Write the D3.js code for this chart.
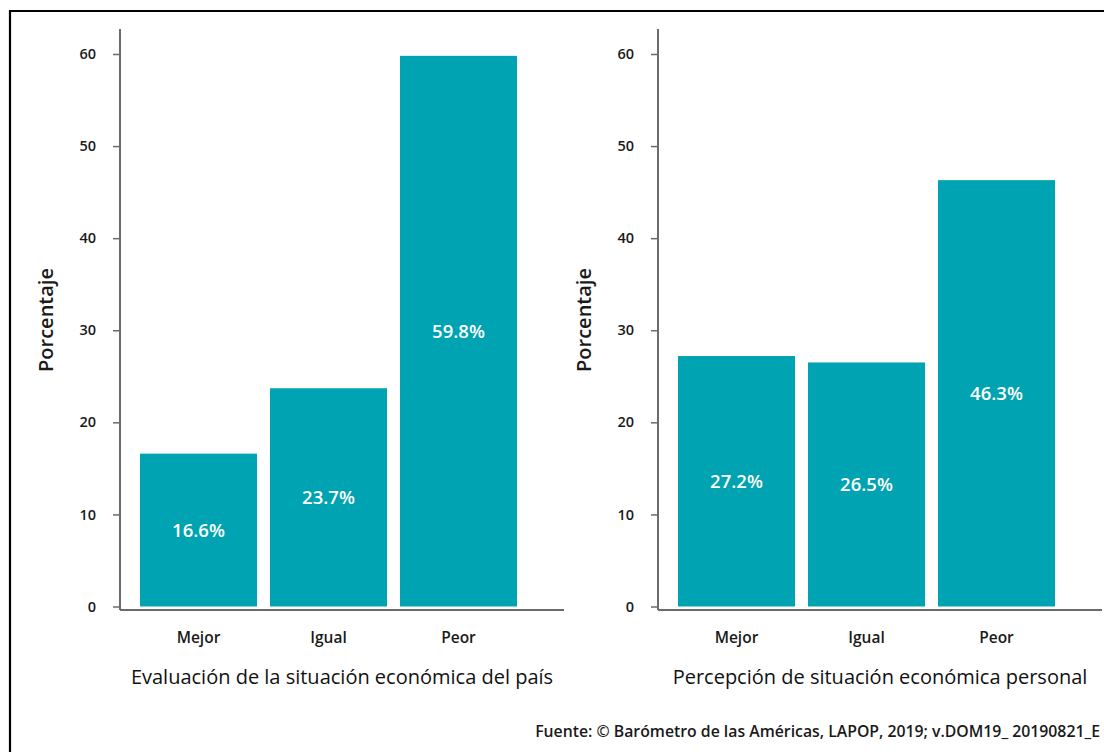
<!DOCTYPE html>
<html>
<head>
<meta charset="utf-8">
<script src="https://cdn.jsdelivr.net/npm/d3@7"></script>
<style>
  html, body { margin: 0; padding: 0; background: #fff; }
  svg { display: block; font-family: "Open Sans", "Noto Sans", sans-serif; }
</style>
</head>
<body>
<svg id="chart" width="1104" height="752"></svg>
<script>
// ---- data ----
const categories = ["Mejor", "Igual", "Peor"];
const paisValues = [16.6, 23.7, 59.8];
const personalValues = [27.2, 26.5, 46.3];
const panelTitles = ["Evaluación de la situación económica del país", "Percepción de situación económica personal"];
const yTicks = [0, 10, 20, 30, 40, 50, 60];
const yLabel = "Porcentaje";
const sourceText = "Fuente: © Barómetro de las Américas, LAPOP, 2019; v.DOM19_ 20190821_E";

// ---- layout ----
const svg = d3.select("#chart");
const barColor = "#00A3B1";
const axisColor = "#6b6b6b";
const textColor = "#1a1a1a";

// frame (top and left border)
svg.append("path")
  .attr("d", "M10,760 L10,11 L1110,11")
  .attr("fill", "none").attr("stroke", "#000").attr("stroke-width", 2.2);

const panels = [
  { x0: 120, values: paisValues, title: panelTitles[0] },
  { x0: 658, values: personalValues, title: panelTitles[1] }
];

const y = d3.scaleLinear().domain([0, 60]).range([606.5, 54]);

panels.forEach(p => {
  const g = svg.append("g");
  const axisEnd = p.x0 + 444;
  const x = d3.scaleBand()
    .domain(categories)
    .range([p.x0 + 13.5, p.x0 + 403.5])
    .paddingInner(0.1)
    .paddingOuter(0.05);

  // bars
  g.selectAll("rect.bar").data(categories).join("rect")
    .attr("class", "bar")
    .attr("x", d => x(d))
    .attr("width", x.bandwidth())
    .attr("y", (d, i) => y(p.values[i]))
    .attr("height", (d, i) => y(0) - y(p.values[i]))
    .attr("fill", barColor);

  // value labels
  g.selectAll("text.val").data(categories).join("text")
    .attr("class", "val")
    .attr("x", d => x(d) + x.bandwidth() / 2)
    .attr("y", (d, i) => (y(p.values[i]) + y(0)) / 2)
    .attr("dy", "0.35em")
    .attr("text-anchor", "middle")
    .attr("fill", "#fff")
    .attr("font-size", 18.5)
    .attr("font-weight", 600)
    .text((d, i) => p.values[i].toFixed(1) + "%");

  // y axis
  const yAxis = g.append("g")
    .attr("transform", `translate(${p.x0},0)`)
    .call(d3.axisLeft(y).tickValues(yTicks).tickSize(7).tickPadding(17).tickFormat(d3.format("d")));
  yAxis.select(".domain").remove();
  yAxis.selectAll(".tick line").attr("stroke", axisColor).attr("stroke-width", 1.5);
  yAxis.selectAll(".tick text").attr("fill", textColor).attr("font-size", 14.5)
    .attr("font-weight", 600).attr("font-family", "'Open Sans', sans-serif");

  // axis lines
  g.append("line").attr("x1", p.x0).attr("x2", p.x0).attr("y1", 29).attr("y2", 610)
    .attr("stroke", axisColor).attr("stroke-width", 2);
  g.append("line").attr("x1", p.x0).attr("x2", axisEnd).attr("y1", 610).attr("y2", 610)
    .attr("stroke", axisColor).attr("stroke-width", 2);

  // category labels
  g.selectAll("text.cat").data(categories).join("text")
    .attr("class", "cat")
    .attr("x", d => x(d) + x.bandwidth() / 2)
    .attr("y", 643)
    .attr("text-anchor", "middle")
    .attr("fill", textColor)
    .attr("font-size", 15.5)
    .attr("font-weight", 600)
    .text(d => d);

  // panel title
  g.append("text")
    .attr("x", (p.x0 + axisEnd) / 2)
    .attr("y", 684)
    .attr("text-anchor", "middle")
    .attr("fill", "#111")
    .attr("font-size", 20)
    .attr("font-weight", 400)
    .text(p.title);

  // y label
  g.append("text")
    .attr("transform", `translate(${p.x0 - 67},320) rotate(-90)`)
    .attr("text-anchor", "middle")
    .attr("fill", textColor)
    .attr("font-size", 20)
    .attr("font-weight", 600)
    .text(yLabel);
});

// source
svg.append("text")
  .attr("x", 1100)
  .attr("y", 737)
  .attr("text-anchor", "end")
  .attr("fill", textColor)
  .attr("font-size", 15.8)
  .attr("font-weight", 600)
  .text(sourceText);
</script>
</body>
</html>
